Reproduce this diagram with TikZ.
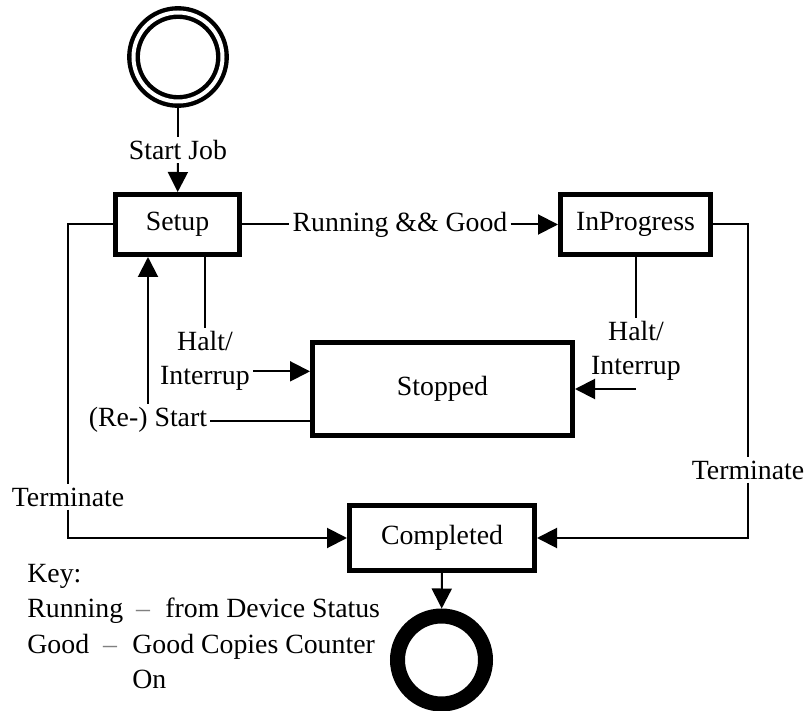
\documentclass[tikz,border=0pt]{standalone}
\usepackage{fontspec}
\setmainfont{Liberation Serif}
\usepackage{tikz}
\usetikzlibrary{arrows.meta,positioning,calc}

\begin{document}
\begin{tikzpicture}[>={Triangle[length=10pt,width=10pt]}, x=0.5pt, y=-0.5pt,
        every node/.style={font=\fontsize{13.9}{17}\selectfont},
        state/.style={draw, line width=2.5pt, inner sep=0pt},
        lbl/.style={inner sep=1.5pt, align=center},
        conn/.style={line width=1pt}]
        \useasboundingbox (0,0) rectangle (809,711);

        % States
        \node[draw, circle, double, line width=2.2pt, double distance=2pt, minimum size=44.5pt, inner sep=0pt] (start) at (178,57) {};
        \node[state, minimum width=62pt, minimum height=30pt] (setup) at (177.5,224.5) {Setup};
        \node[state, minimum width=75pt, minimum height=30pt] (inprog) at (635.5,224.5) {InProgress};
        \node[state, minimum width=130pt, minimum height=46.5pt] (stopped) at (442.5,389) {Stopped};
        \node[state, minimum width=92.5pt, minimum height=32.5pt] (completed) at (442,538) {Completed};
        \node[draw, circle, line width=7.5pt, minimum size=44pt, inner sep=0pt] (finish) at (441.5,660) {};

        % Transition labels
        \node[lbl] (startjob) at (178,150) {Start Job};
        \node[lbl] (rungood) at (400,224.5) {Running \&\& Good};
        \node[lbl] (haltL) at (205,361) {Halt/\\Interrup};
        \node[lbl] (restart) at (148,420) {(Re-) Start};
        \node[lbl] (haltR) at (636,351) {Halt/\\Interrup};
        \node[lbl] (termL) at (68,497) {Terminate};
        \node[lbl] (termR) at (748,470) {Terminate};

        \coordinate (stopinL) at ($(stopped.north west)!0.32!(stopped.south west)$);
        \coordinate (stopoutL) at ($(stopped.north west)!0.83!(stopped.south west)$);

        % Start and run
        \draw[conn] (start) -- (startjob);
        \draw[conn, ->] (startjob) -- (setup);
        \draw[conn] (setup) -- (rungood);
        \draw[conn, ->] (rungood) -- (inprog);

        % Terminate
        \draw[conn] (setup.west) -| (termL);
        \draw[conn, ->] (termL) |- (completed.west);
        \draw[conn] (inprog.east) -| (termR);
        \draw[conn, ->] (termR) |- (completed.east);

        % Halt / restart
        \draw[conn] (setup.south -| haltL) -- (haltL);
        \draw[conn, ->] (haltL.east |- stopinL) -- (stopinL);
        \draw[conn] (stopoutL) -- (restart.east |- stopoutL);
        \draw[conn, ->] (restart) -- (restart |- setup.south);
        \draw[conn] (inprog.south -| haltR) -- (haltR);
        \draw[conn, ->] (haltR.south |- stopped.east) -- (stopped.east);

        % End
        \draw[conn, ->] (completed) -- (finish);

        % Key
        \node[anchor=base west, inner sep=0pt] (keyhead) at (27,582) {Key:};
        \node[anchor=base west, inner sep=0pt] (keyrun) at (27,617) {Running};
        \node[anchor=base, inner sep=0pt, gray] (keyrundash) at (143,617) {--};
        \node[anchor=base west, inner sep=0pt] (keyrunval) at (165,617) {from Device Status};
        \node[anchor=base west, inner sep=0pt] (keygood) at (27,653) {Good};
        \node[anchor=base, inner sep=0pt, gray] (keygooddash) at (110,653) {--};
        \node[anchor=base west, inner sep=0pt] (keygoodval) at (132,653) {Good Copies Counter};
        \node[anchor=base west, inner sep=0pt] (keyon) at (132,688) {On};
    \end{tikzpicture}
\end{document}
